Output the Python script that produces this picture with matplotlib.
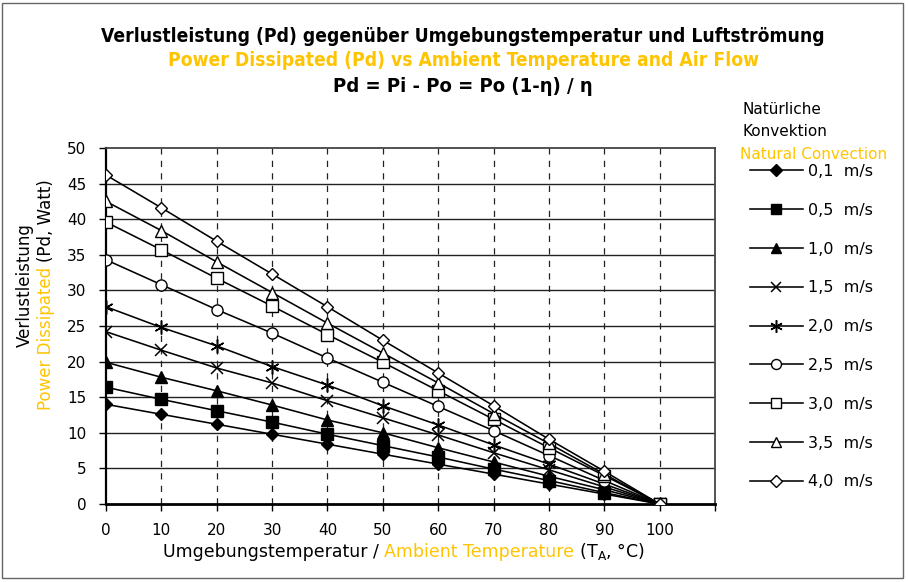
import matplotlib
matplotlib.use('Agg')
import matplotlib.pyplot as plt
from matplotlib.patches import Rectangle

# ---------------- data ----------------
temps = [0, 10, 20, 30, 40, 50, 60, 70, 80, 90, 100]
x_tick_labels = ["0", "10", "20", "30", "40", "50", "60", "70", "80", "90", "100"]
y_ticks = [0, 5, 10, 15, 20, 25, 30, 35, 40, 45, 50]

series_labels = ["0,1  m/s", "0,5  m/s", "1,0  m/s", "1,5  m/s", "2,0  m/s",
                 "2,5  m/s", "3,0  m/s", "3,5  m/s", "4,0  m/s"]
pd_01 = [14.0, 12.6, 11.2, 9.8, 8.4, 7.0, 5.6, 4.2, 2.8, 1.4, 0.0]
pd_05 = [16.4, 14.7, 13.1, 11.5, 9.8, 8.2, 6.6, 4.9, 3.3, 1.6, 0.0]
pd_10 = [19.9, 17.8, 15.9, 13.9, 11.8, 10.0, 7.9, 5.9, 3.9, 2.0, 0.0]
pd_15 = [24.2, 21.6, 19.1, 17.0, 14.5, 12.1, 9.7, 7.2, 4.8, 2.4, 0.0]
pd_20 = [27.7, 24.8, 22.2, 19.3, 16.7, 13.8, 11.1, 8.3, 5.6, 2.8, 0.0]
pd_25 = [34.3, 30.8, 27.3, 24.0, 20.5, 17.1, 13.7, 10.3, 6.8, 3.3, 0.0]
pd_30 = [39.6, 35.7, 31.7, 27.8, 23.8, 19.9, 15.9, 11.9, 7.9, 4.0, 0.0]
pd_35 = [42.5, 38.4, 34.0, 29.7, 25.4, 21.2, 17.0, 12.7, 8.5, 4.2, 0.0]
pd_40 = [46.2, 41.6, 36.9, 32.3, 27.7, 23.0, 18.4, 13.8, 9.1, 4.6, 0.0]
series_values = [pd_01, pd_05, pd_10, pd_15, pd_20, pd_25, pd_30, pd_35, pd_40]

# ---------------- styles ----------------
YELLOW = '#FFC400'
styles = [
    dict(marker='D', mfc='black', ms=6.5),
    dict(marker='s', mfc='black', ms=8),
    dict(marker='^', mfc='black', ms=8),
    dict(marker='x', mfc='none', ms=8, mew=1.1),
    dict(marker=(6, 2, 0), mfc='none', ms=10, mew=1.1),
    dict(marker='o', mfc='white', ms=8),
    dict(marker='s', mfc='white', ms=8),
    dict(marker='^', mfc='white', ms=8),
    dict(marker='D', mfc='white', ms=6.5),
]

plt.rcParams['font.family'] = ['DejaVu Sans']

W, H = 908, 582
fig = plt.figure(figsize=(W / 100, H / 100), dpi=100)
fig.patch.set_facecolor('white')

def fx(px):
    return px / W

def fy(py):
    return 1 - py / H

# outer frame
fig.patches.append(Rectangle((fx(2), fy(578)), fx(903) - fx(2), fy(3) - fy(578),
                             transform=fig.transFigure, fill=False,
                             edgecolor='#666666', lw=1.0))

ax = fig.add_axes([fx(106), fy(504), fx(715) - fx(106), fy(148) - fy(504)])

lines = []
for vals, lab, st in zip(series_values, series_labels, styles):
    ln, = ax.plot(temps, vals, color='black', lw=1.15, mec='black',
                  label=lab, zorder=3, **st)
    lines.append(ln)

ax.set_xlim(0, 110)
ax.set_ylim(0, 50)
ax.set_xticks(temps + [110])
ax.set_xticklabels(x_tick_labels + [""])
ax.set_yticks(y_ticks)
ax.tick_params(axis='both', direction='out', length=5, width=1, color='black',
               labelsize=11, pad=9)

# grid
for v in y_ticks[1:-1]:
    ax.axhline(v, color='#222222', lw=1.0, zorder=1)
for t in temps[1:]:
    ax.axvline(t, color='#222222', lw=0.9, ls=(0, (5, 5)), zorder=1)

for side in ['top', 'right']:
    ax.spines[side].set_color('#444444')
    ax.spines[side].set_linewidth(1.3)
ax.spines['left'].set_linewidth(1.6)
ax.spines['bottom'].set_linewidth(2.0)

# titles (fit width to reference)
cx = fx(463)
title_kw = dict(ha='center', va='center', fontweight='bold', stretch='condensed')
tt1 = fig.text(cx, fy(37), "Verlustleistung (Pd) gegenüber Umgebungstemperatur und Luftströmung",
               fontsize=15.5, **title_kw)
tt2 = fig.text(cx, fy(61), "Power Dissipated (Pd) vs Ambient Temperature and Air Flow",
               fontsize=15.5, color=YELLOW, **title_kw)
tt3 = fig.text(cx, fy(86), "Pd = Pi - Po = Po (1-η) / η", fontsize=15.5, **title_kw)
fig.canvas.draw()
r = fig.canvas.get_renderer()
w1 = tt1.get_window_extent(r).width
fs = 15.5 * 720.0 / w1
for t in (tt1, tt2):
    t.set_fontsize(fs)
tt3.set_fontsize(fs * 1.05)

# x label (multi-colour)
XL_FS = 12.5
base_y = fy(557)
t1 = fig.text(fx(163), base_y, "Umgebungstemperatur / ", ha='left', va='baseline',
              fontsize=XL_FS)
t2 = fig.text(0, 0, "Ambient Temperature", fontsize=XL_FS, color=YELLOW, ha='left',
              va='baseline')
t3 = fig.text(0, 0, r" (T$_\mathregular{A}$, °C)", fontsize=XL_FS, ha='left', va='baseline')
fig.canvas.draw()
bb1 = t1.get_window_extent(r)
t2.set_position((bb1.x1 / W, base_y))
fig.canvas.draw()
bb2 = t2.get_window_extent(r)
t3.set_position((bb2.x1 / W, base_y))

# y label (two lines, rotated)
fig.text(fx(25), fy(285), "Verlustleistung", rotation=90, ha='center', va='center',
         fontsize=12)
y2a = fig.text(fx(46), fy(410), "Power Dissipated ", rotation=90, ha='center',
               va='bottom', fontsize=12, color=YELLOW)
fig.canvas.draw()
bby = y2a.get_window_extent(r)
fig.text(fx(46), bby.y1 / H, "(Pd, Watt)", rotation=90, ha='center', va='bottom',
         fontsize=12)

# legend header
fig.text(fx(742), fy(109), "Natürliche", ha='left', va='center', fontsize=11)
fig.text(fx(742), fy(132), "Konvektion", ha='left', va='center', fontsize=11)
fig.text(fx(740), fy(155), "Natural Convection", ha='left', va='center', fontsize=11,
         color=YELLOW)

leg = ax.legend(handles=lines, loc='upper left',
                bbox_to_anchor=(fx(750), fy(164)), bbox_transform=fig.transFigure,
                frameon=False, fontsize=11.5, handlelength=3.3, handletextpad=0.3,
                labelspacing=1.49, borderpad=0, borderaxespad=0, markerscale=0.9)

fig.savefig('out.png', dpi=100)
